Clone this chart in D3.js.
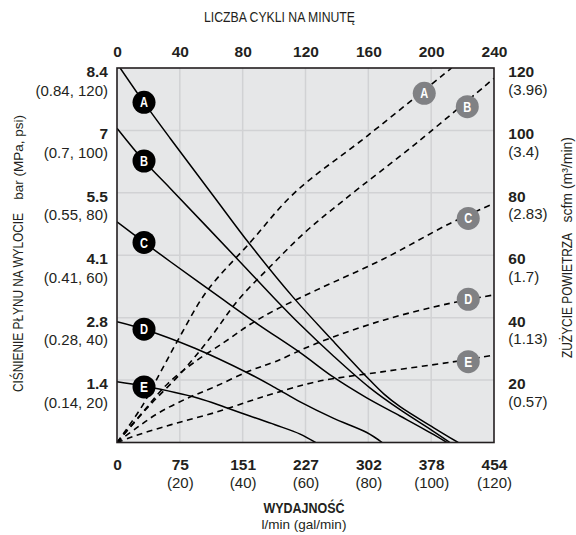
<!DOCTYPE html>
<html><head><meta charset="utf-8">
<script src="https://cdn.jsdelivr.net/npm/d3@7"></script>
<style>
body{margin:0;background:#fff}
text{fill:#231f20}
</style>
</head><body>
<svg id="chart" width="576" height="535"></svg>
<script>
// ---- data ----
const flowGal = [0, 20, 40, 60, 80, 100, 120];
const flowLpm = ["0", "75", "151", "227", "302", "378", "454"];
const cycles = [0, 40, 80, 120, 160, 200, 240];
const psiTicks = [20, 40, 60, 80, 100, 120];
const barLabels = ["1.4", "2.8", "4.1", "5.5", "7", "8.4"];
const mpaPsiLabels = ["(0.14, 20)", "(0.28, 40)", "(0.41, 60)", "(0.55, 80)", "(0.7, 100)", "(0.84, 120)"];
const scfmTicks = [20, 40, 60, 80, 100, 120];
const m3Labels = ["(0.57)", "(1.13)", "(1.7)", "(2.83)", "(3.4)", "(3.96)"];
const curveNames = ["A", "B", "C", "D", "E"];

// fluid outlet pressure curves: [gal/min, psi]
const pressA = [[1,120],[8.9,108.5],[16.9,97.5],[30.7,79],[42.3,63.5],[56.1,46.5],[68.8,32.5],[79.5,21],[85,15.5],[90.1,11.5],[100.7,4.8],[108.6,0]];
const pressB = [[0,100.7],[8.6,90.2],[16.9,81.5],[38.6,58.5],[50.3,46],[58.3,37.8],[68.8,27.8],[80.5,17.5],[90.1,10.5],[100.7,3.6],[106,0]];
const pressC = [[0,70.7],[8.6,64.2],[16.9,58],[32.8,46.5],[45,37.8],[58.3,28.8],[68.8,21],[79.5,14.3],[90.1,8.5],[100.7,2.6],[105,0]];
const pressD = [[0,38.7],[8.6,36.3],[24.8,30.2],[41.8,22.2],[50.3,17.6],[58.3,13],[68.8,7.8],[79.5,3.2],[84.4,0]];
const pressE = [[0,19.5],[8.6,18.1],[25.9,14.2],[34.4,11.3],[42.3,8.5],[50.3,5.7],[58.3,2.7],[63.2,0]];

// air consumption curves: [gal/min, scfm]
const airA = [[0,0],[7.9,11.5],[14.2,23.2],[20.6,35],[28.6,48.5],[42.3,64],[56.5,80],[80,98.5],[106.5,120]];
const airB = [[0,0],[10,11.5],[20.6,22.5],[30,34],[38.6,45.7],[48.7,56.3],[60,67.5],[72,77.5],[96,96.5],[120,116.7]];
const airC = [[0,0],[8,9.5],[16.3,19],[25,26],[34.4,32.3],[42.3,37.8],[50.3,42.4],[63.6,48.9],[84.8,58.8],[106,70.2],[120,76.6]];
const airD = [[0,0],[6,4.5],[13.1,9.4],[22,14],[31.2,17.9],[42.3,23],[50.3,25.9],[63.6,31.8],[84.8,39.2],[106,44.6],[120,47.3]];
const airE = [[0,0],[4,1.5],[9.9,3.5],[20,6.5],[31.2,9.6],[42.3,13.3],[50.3,15.8],[63.6,19.5],[84.8,22.7],[106,25.7],[120,28]];

// curve label anchor points (data coords)
const pressLabelPos = [[8.6,109],[8.6,90.2],[8.6,64.1],[8.6,36.3],[8.6,17.8]];
const airLabelPos = [[97.8,111.9],[111.5,107.6],[111.8,71.8],[111.8,45.9],[111.8,25.9]];

const pressSeries = [pressA, pressB, pressC, pressD, pressE];
const airSeries = [airA, airB, airC, airD, airE];

// ---- layout ----
const L = 117, R = 494, T = 68, B = 442.5;
const svg = d3.select("#chart");
const x = d3.scaleLinear().domain([0, 120]).range([L, R]);
const xTop = d3.scaleLinear().domain([0, 240]).range([L, R]);
const y = d3.scaleLinear().domain([0, 120]).range([B, T]);
const yR = d3.scaleLinear().domain([0, 120]).range([B, T]);

const numFont = "'Liberation Sans', Arial, sans-serif";

// plot background
svg.append("rect").attr("x", L).attr("y", T).attr("width", R - L).attr("height", B - T).attr("fill", "#e6e7e8");

// grid
const grid = svg.append("g").attr("stroke", "#d1d2d4").attr("stroke-width", 1.5);
grid.selectAll("line.v").data(flowGal.slice(1, -1)).join("line")
  .attr("x1", d => x(d)).attr("x2", d => x(d)).attr("y1", T).attr("y2", B);
grid.selectAll("line.h").data(psiTicks.slice(0, -1)).join("line")
  .attr("x1", L).attr("x2", R).attr("y1", d => y(d)).attr("y2", d => y(d));

// clip
svg.append("clipPath").attr("id", "plotclip").append("rect")
  .attr("x", L).attr("y", T).attr("width", R - L).attr("height", B - T);

const lineP = d3.line().x(d => x(d[0])).y(d => y(d[1])).curve(d3.curveCatmullRom.alpha(0.5));
const lineA = d3.line().x(d => x(d[0])).y(d => yR(d[1])).curve(d3.curveCatmullRom.alpha(0.5));

const curves = svg.append("g").attr("clip-path", "url(#plotclip)").attr("fill", "none");
curves.selectAll("path.air").data(airSeries).join("path")
  .attr("class", "air").attr("d", lineA)
  .attr("stroke", "#000").attr("stroke-width", 1.6).attr("stroke-dasharray", "6,4.5");
curves.selectAll("path.press").data(pressSeries).join("path")
  .attr("class", "press").attr("d", lineP)
  .attr("stroke", "#000").attr("stroke-width", 1.5);

// curve labels
function drawLabels(pos, fill, yScale) {
  const g = svg.append("g").selectAll("g").data(pos).join("g")
    .attr("transform", d => `translate(${x(d[0])},${yScale(d[1])})`);
  g.append("circle").attr("r", 11.5).attr("fill", fill);
  g.append("text").text((d, i) => curveNames[i])
    .attr("text-anchor", "middle").attr("dy", "0.36em")
    .attr("textLength", 8).attr("lengthAdjust", "spacingAndGlyphs")
    .style("font-family", numFont).style("font-weight", "bold").style("font-size", "14px")
    .style("fill", "#fff");
}
drawLabels(pressLabelPos, "#000", y);
drawLabels(airLabelPos, "#808184", yR);

// border
svg.append("rect").attr("x", L).attr("y", T).attr("width", R - L).attr("height", B - T)
  .attr("fill", "none").attr("stroke", "#231f20").attr("stroke-width", 1.6);

// ---- axes ----
function styleAxis(g) {
  g.select(".domain").remove();
  g.selectAll(".tick line").remove();
  g.selectAll(".tick text").style("font-family", numFont).style("font-weight", "bold")
    .style("font-size", "15.5px").attr("fill", "#231f20");
}

// top axis: cycles per minute
svg.append("g").attr("transform", `translate(0,${T})`)
  .call(d3.axisTop(xTop).tickValues(cycles).tickSize(0).tickPadding(10.7).tickFormat(d3.format("d")))
  .call(styleAxis);

// bottom axis: flow
const gb = svg.append("g").attr("transform", `translate(0,${B})`)
  .call(d3.axisBottom(x).tickValues(flowGal).tickSize(0).tickPadding(16).tickFormat((d, i) => flowLpm[i]))
  .call(styleAxis);
gb.selectAll(".tick").filter(d => d > 0).append("text")
  .attr("y", 45.5).attr("text-anchor", "middle").attr("fill", "#231f20")
  .style("font-family", numFont).style("font-size", "15px")
  .text(d => `(${d})`);

// left axis: pressure
const gl = svg.append("g").attr("transform", `translate(${L},0)`)
  .call(d3.axisLeft(y).tickValues(psiTicks).tickSize(0).tickPadding(9).tickFormat((d, i) => barLabels[i]))
  .call(styleAxis);
gl.selectAll(".tick text").attr("dy", "0.55em");
gl.selectAll(".tick").append("text")
  .attr("x", -9).attr("y", 27).attr("text-anchor", "end").attr("fill", "#231f20")
  .style("font-family", numFont).style("font-size", "15px")
  .text((d, i) => mpaPsiLabels[i]);

// right axis: air consumption
const gr = svg.append("g").attr("transform", `translate(${R},0)`)
  .call(d3.axisRight(yR).tickValues(scfmTicks).tickSize(0).tickPadding(14.3).tickFormat(d3.format("d")))
  .call(styleAxis);
gr.selectAll(".tick text").attr("dy", "0.55em");
gr.selectAll(".tick").append("text")
  .attr("x", 14.3).attr("y", 26).attr("text-anchor", "start").attr("fill", "#231f20")
  .style("font-family", numFont).style("font-size", "15px")
  .text((d, i) => m3Labels[i]);

// ---- titles ----
function narrow(sel, len) {
  return sel.attr("textLength", len).attr("lengthAdjust", "spacingAndGlyphs");
}
svg.append("text").attr("x", 279.5).attr("y", 21.5).attr("text-anchor", "middle")
  .style("font-family", numFont).style("font-size", "14.5px")
  .text("LICZBA CYKLI NA MINUTĘ").call(narrow, 151);

svg.append("text").attr("x", 304).attr("y", 512.5).attr("text-anchor", "middle")
  .style("font-family", numFont).style("font-weight", "bold").style("font-size", "14.5px")
  .text("WYDAJNOŚĆ").call(narrow, 81);
svg.append("text").attr("x", 304).attr("y", 528.5).attr("text-anchor", "middle")
  .style("font-family", numFont).style("font-size", "13.5px")
  .text("l/min (gal/min)");

svg.append("text").attr("transform", "translate(22.5,392) rotate(-90)").attr("text-anchor", "start")
  .style("font-family", numFont).style("font-size", "14.4px")
  .text("CIŚNIENIE PŁYNU NA WYLOCIE").call(narrow, 179);
svg.append("text").attr("transform", "translate(22.5,115) rotate(-90)").attr("text-anchor", "end")
  .style("font-family", numFont).style("font-size", "13.5px")
  .text("bar (MPa, psi)");

svg.append("text").attr("transform", "translate(572,358) rotate(-90)").attr("text-anchor", "start")
  .style("font-family", numFont).style("font-size", "14.5px")
  .text("ZUŻYCIE POWIETRZA").call(narrow, 125);
svg.append("text").attr("transform", "translate(572,137) rotate(-90)").attr("text-anchor", "end")
  .style("font-family", numFont).style("font-size", "14px")
  .text("scfm (m³/min)");
</script>
</body></html>
